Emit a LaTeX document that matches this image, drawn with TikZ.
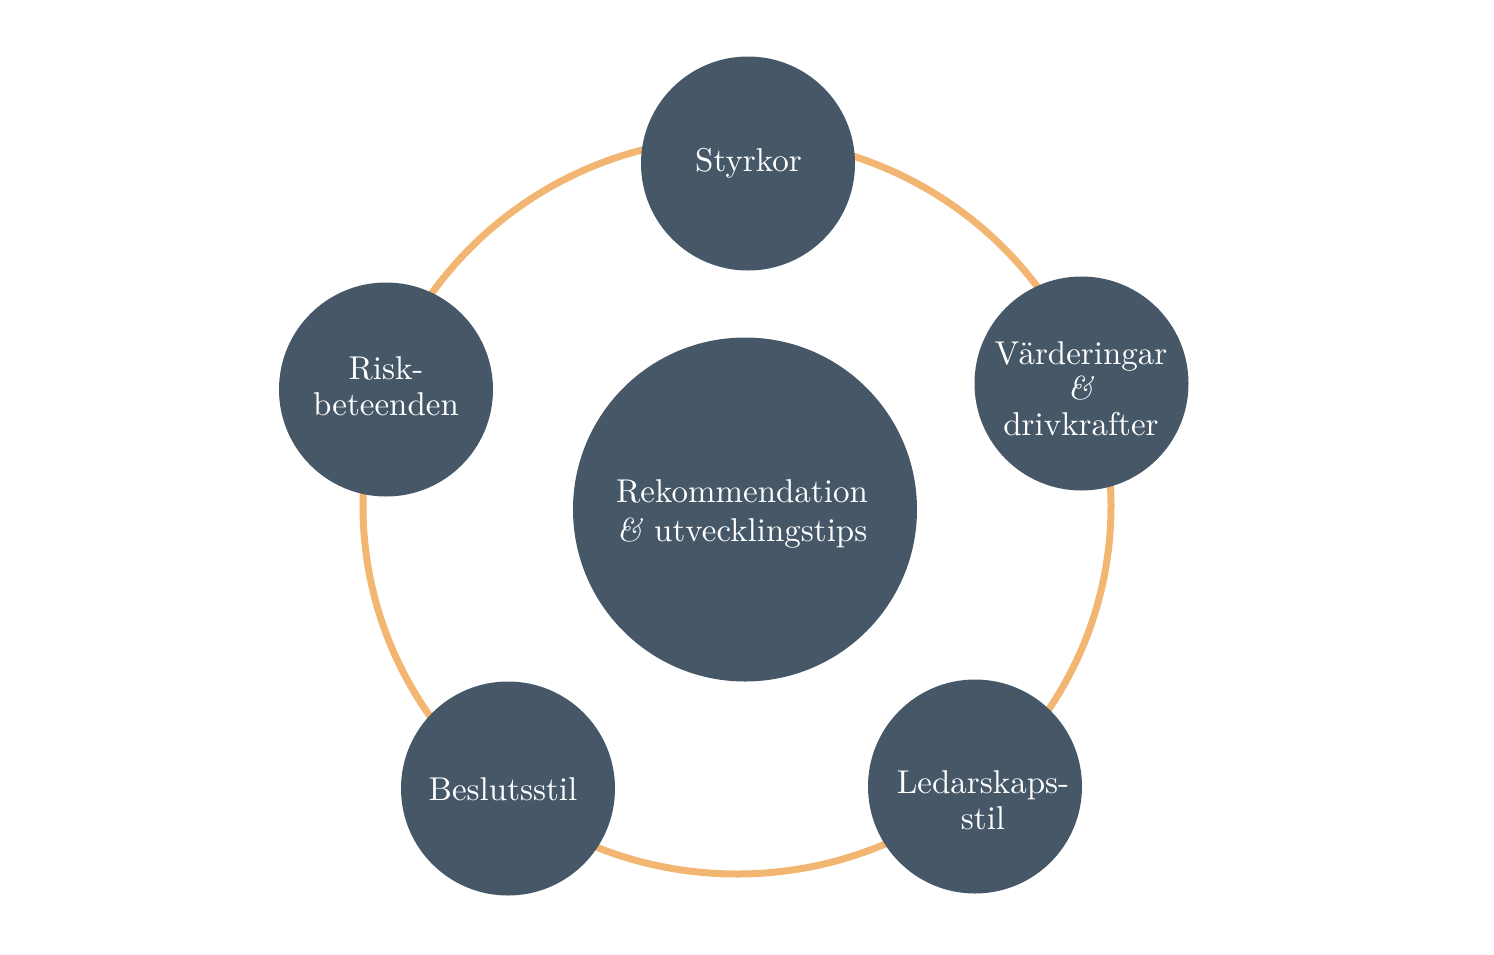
\documentclass[tikz,border=0pt]{standalone}
\usepackage{fontspec}
\usepackage{tikz}
\newfontfamily\bubblefont{lmroman10-regular.otf}[ItalicFont=lmroman10-italic.otf]
\definecolor{slate}{HTML}{465767}
\definecolor{peach}{HTML}{F2B572}
\begin{document}
\begin{tikzpicture}[x=1pt,y=-1pt,bubble/.style={circle,fill=slate,inner sep=0pt,minimum size=214pt},
  word/.style={text=white,align=center,anchor=base,font=\bubblefont\fontsize{33}{35.5}\selectfont}]
\useasboundingbox (0,0) rectangle (1494,954);
\draw[peach,line width=7pt] (737,506) ellipse [x radius=374pt,y radius=368pt];
\node[bubble,minimum size=344pt] (kern) at (745,509.5) {};\node[word,font=\bubblefont\fontsize{33}{39}\selectfont] (kerntxt) at (742,541) {Rekommendation\\\textit{\&} utvecklingstips};
\node[bubble] (styrkor) at (748,163.5) {};\node[word] (styrkortxt) at (748.5,171) {Styrkor};
\node[bubble] (varden) at (1081.5,383.5) {};\node[word] (vardentxt) at (1081,435) {V\"arderingar\\\textit{\&}\\drivkrafter};
\node[bubble] (ledare) at (975,786.5) {};\node[word] (ledaretxt) at (983,829) {Ledarskaps-\\stil};
\node[bubble] (beslut) at (508,788.5) {};\node[word] (beslutxt) at (503,800) {Beslutsstil};
\node[bubble] (risk) at (386,389.5) {};\node[word] (risktxt) at (386,415) {Risk-\\beteenden};
\end{tikzpicture}
\end{document}
